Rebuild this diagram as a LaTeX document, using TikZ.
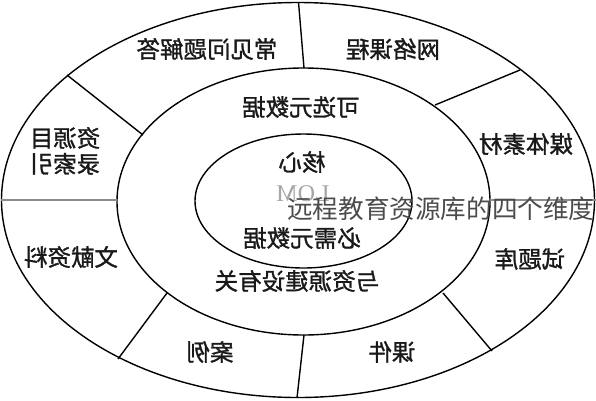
\documentclass[tikz,border=0pt]{standalone}
\usepackage{fontspec}
\setmainfont{Liberation Serif}
\newfontfamily\cjk{Noto Sans CJK SC}
\newfontfamily\cjkb[FakeBold=1.2]{Noto Sans CJK SC}
\begin{document}
\begin{tikzpicture}[x=1pt,y=-1pt,
  ring/.style={draw=black,line width=1.4pt},
  divider/.style={draw=black,line width=1.4pt},
  graydiv/.style={draw=black!45,line width=1.4pt},
  lbl/.style={font=\cjkb\fontsize{23.5}{27}\selectfont,text=black!90,inner sep=0pt,align=center},
  overlay/.style={font=\cjk\fontsize{25.6}{29}\selectfont,text=black!70,inner sep=0pt,anchor=west},
  ghost/.style={font=\fontsize{24}{26}\selectfont,text=black!35,inner sep=0pt}]
\useasboundingbox (0,0) rectangle (596,400);
\fill[white] (0,0) rectangle (596,400);
% ellipses
\coordinate (co) at (298,200);
\coordinate (cm) at (303.5,201.5);
\coordinate (ci) at (303.5,201);
\draw[ring] (co) ellipse [x radius=296.5pt, y radius=197.5pt];
\draw[ring] (cm) ellipse [x radius=186.5pt, y radius=133.5pt];
\draw[ring] (ci) ellipse [x radius=108.5pt, y radius=67pt];
% divider end points
\coordinate (o1) at (298.5,2);   \coordinate (m1) at (304,68);
\coordinate (o2) at (520,70);    \coordinate (m2) at (435,105);
\coordinate (o3) at (596,200);   \coordinate (m3) at (490,200);
\coordinate (o4) at (492,351);   \coordinate (m4) at (443,293);
\coordinate (o5) at (297,398);   \coordinate (m5) at (304,335);
\coordinate (o6) at (118,359);   \coordinate (m6) at (167,293);
\coordinate (o7) at (1,200);     \coordinate (m7) at (117,200);
\coordinate (o8) at (67,75);     \coordinate (m8) at (143,135);
\draw[divider] (o1) -- (m1);
\draw[divider] (o2) -- (m2);
\draw[graydiv] (o3) -- (m3);
\draw[divider] (o4) -- (m4);
\draw[divider] (o5) -- (m5);
\draw[divider] (o6) -- (m6);
\draw[graydiv] (o7) -- (m7);
\draw[divider] (o8) -- (m8);
% outer ring labels (mirrored as in reference)
\node[lbl] (faq) at (207,49) {\scalebox{-1}[1]{常见问题解答}};
\node[lbl] (net) at (393,49) {\scalebox{-1}[1]{网络课程}};
\node[lbl] (media) at (526,144) {\scalebox{-1}[1]{媒体素材}};
\node[lbl] (test) at (530,259) {\scalebox{-1}[1]{试题库}};
\node[lbl] (ware) at (392,352) {\scalebox{-1}[1]{课件}};
\node[lbl] (case) at (210,352) {\scalebox{-1}[1]{案例}};
\node[lbl] (lit) at (71,257) {\scalebox{-1}[1]{文献资料}};
\node[lbl] (idx) at (65,154) {\scalebox{-1}[1]{\begin{tabular}{@{}l@{}}资源目\\[-2pt]录索引\end{tabular}}};
% middle ring labels
\node[lbl] (opt) at (301,107) {\scalebox{-1}[1]{可选元数据}};
\node[lbl] (rel) at (297,281) {\scalebox{-1}[1]{与资源建设有关}};
% inner labels
\node[lbl] (core) at (302,162) {\scalebox{-1}[1]{核心}};
\node[ghost] (lom) at (303,194) {\scalebox{-1}[1]{LOM}};
\node[lbl] (req) at (302,238) {\scalebox{-1}[1]{必需元数据}};
% overlaid caption
\node[overlay] (cap) at (287,209) {远程教育资源库的四个维度};
\end{tikzpicture}
\end{document}
